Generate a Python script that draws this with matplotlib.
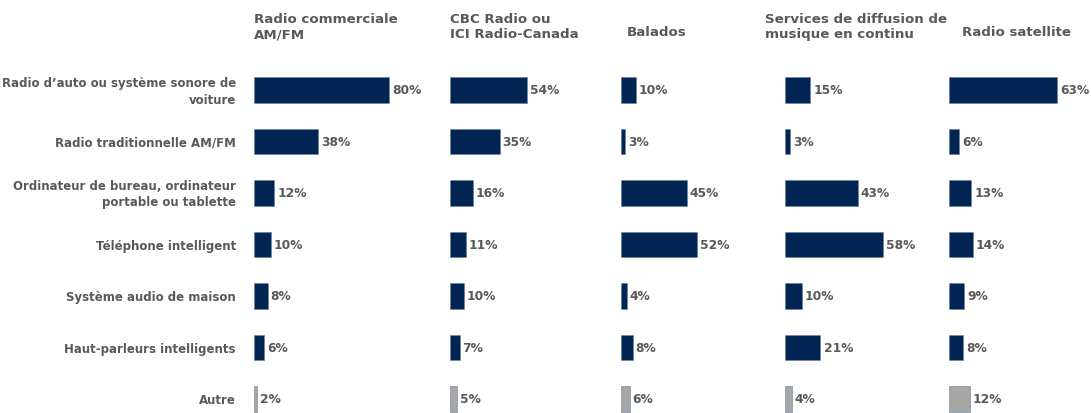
import matplotlib
matplotlib.use("Agg")
import matplotlib.pyplot as plt

categories = ["Radio d\u2019auto ou système sonore de\nvoiture",
              "Radio traditionnelle AM/FM",
              "Ordinateur de bureau, ordinateur\nportable ou tablette",
              "Téléphone intelligent",
              "Système audio de maison",
              "Haut-parleurs intelligents",
              "Autre"]
titles = ["Radio commerciale\nAM/FM", "CBC Radio ou\nICI Radio-Canada", "Balados",
          "Services de diffusion de\nmusique en continu", "Radio satellite"]
commerciale = [80, 38, 12, 10, 8, 6, 2]
cbc = [54, 35, 16, 11, 10, 7, 5]
balados = [10, 3, 45, 52, 4, 8, 6]
diffusion = [15, 3, 43, 58, 10, 21, 4]
satellite = [63, 6, 13, 14, 9, 8, 12]
series = [commerciale, cbc, balados, diffusion, satellite]

W, H = 1091, 414
navy = "#012553"
grey_bar = "#a6a6a6"
txt = "#595959"
plt.rcParams['font.family'] = ['DejaVu Sans']

fig = plt.figure(figsize=(W / 100, H / 100), dpi=100)

# panel left edge (px) and px per percent
starts = [254, 450, 621, 785, 949]
scales = [1.69, 1.43, 1.46, 1.69, 1.71]
row0, step = 91, 51.5
top_px = row0 - step / 2
height_px = step * 7

for k, vals in enumerate(series):
    x0 = starts[k]
    wpx = scales[k] * 100
    ax = fig.add_axes([x0 / W, 1 - (top_px + height_px) / H, wpx / W, height_px / H])
    cols = [navy] * 6 + [grey_bar]
    ax.barh(range(len(vals)), vals, height=0.5, color=cols, edgecolor='#6b7f99', linewidth=0.4)
    for i, v in enumerate(vals):
        ax.text(v + 1.8, i, f"{v}%", va='center', ha='left', fontsize=8.8,
                fontweight='bold', color=txt, clip_on=False)
    ax.set_xlim(0, 100)
    ax.set_ylim(6.5, -0.5)
    ax.axis('off')

# column titles
tpos = [(254, 'left'), (450, 'left'), (657, 'center'), (765, 'left'), (1016, 'center')]
for k, t in enumerate(titles):
    yc = 27 if "\n" in t else 33
    x, ha = tpos[k]
    fig.text(x / W, 1 - yc / H, t, ha=ha, va='center', fontsize=9.6,
             fontweight='bold', color=txt, linespacing=1.2)

# category labels
for i, c in enumerate(categories):
    fig.text(236 / W, 1 - (row0 + 1 + i * step) / H, c, ha='right', va='center',
             fontsize=8.5, fontweight='bold', color=txt, linespacing=1.3)

fig.savefig("out.png", dpi=100)
